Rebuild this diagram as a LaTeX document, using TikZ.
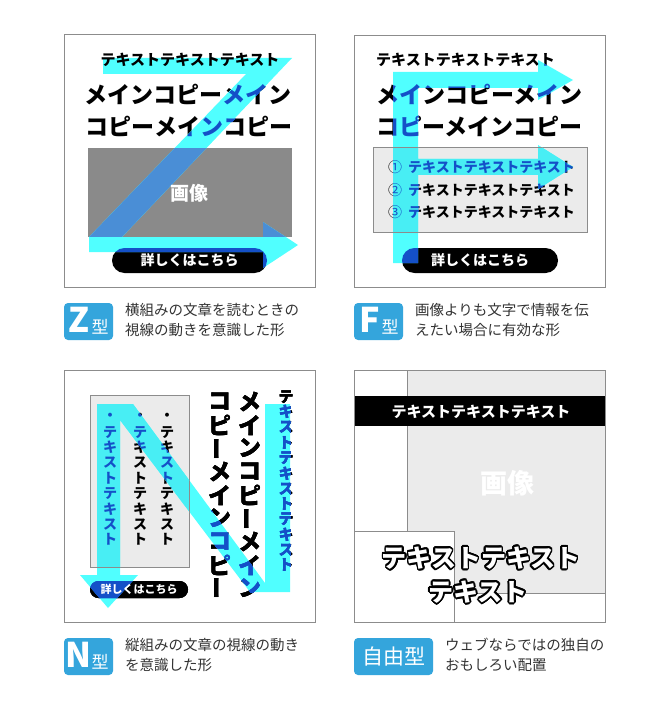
\documentclass[tikz,border=0pt]{standalone}
\usepackage{fontspec}
\setmainfont{Noto Sans CJK JP}
\usepackage{graphicx}
\usetikzlibrary{positioning}

\definecolor{acyan}{HTML}{50FFFF}
\definecolor{ablue}{HTML}{1450C8}
\definecolor{asteel}{HTML}{4A8ED6}
\definecolor{acyangray}{HTML}{48EEF4}
\definecolor{imggray}{HTML}{8A8A8A}
\definecolor{boxgray}{HTML}{EBEBEB}
\definecolor{framegray}{HTML}{8C8C8C}
\definecolor{tagblue}{HTML}{34A5DC}
\definecolor{desccolor}{HTML}{333333}

% vertical long vowel mark
\newcommand\vbar{\rotatebox[origin=c]{90}{ー}}

% one column of vertical text: name, style, x, first y, pitch, glyphs
\newcommand\vcol[6]{%
  \foreach \ch [count=\k] in {#6}
    \node[#2] (#1-\k) at (#3,{#4+#5*(\k-1)}) {\ch};}

% arrow outlines
\newcommand\zarrow{(103,58) -- (292,58) -- (122,237) -- (263,237) -- (263,222) -- (298,245) -- (263,268) -- (263,252) -- (89,252) -- (89,237) -- (246,74) -- (103,74) -- cycle}
\newcommand\farrow{(393,72) -- (538,72) -- (538,60) -- (573,80) -- (538,100) -- (538,88) -- (418,88) -- (418,159) -- (538,159) -- (538,145) -- (573,167) -- (538,189) -- (538,175) -- (418,175) -- (418,263) -- (393,263) -- cycle}
\newcommand\narrow{(97,404) -- (133,404) -- (265,583) -- (265,404) -- (290,404) -- (290,592) -- (250,592) -- (120,420) -- (120,575) -- (138,575) -- (108,608) -- (80,575) -- (97,575) -- cycle}

% panel contents: image/box colour, text colour, button colour
\newcommand\zbase[3]{%
  \fill[#1] (88,148) rectangle (292,237);
  \node[imgtext] (zimage) at (189,193) {画像};
  \node[maincopy, text=#2] (zmainA) at (188,95) {メインコピーメイン};
  \node[maincopy, text=#2] (zmainB) at (189,127) {コピーメインコピー};
  \fill[#3, rounded corners=12.5pt] (112,248) rectangle (267,273);
  \node[btntext] (zbutton) at (189.5,260.5) {詳しくはこちら};}

\newcommand\fbase[3]{%
  \draw[draw=framegray, fill=#1] (373,147) rectangle (587,232);
  \node[subcopy, anchor=west, text=#2] (ftop) at (376,60) {テキストテキストテキスト};
  \node[maincopy, anchor=west, text=#2] (fmainA) at (376,95) {メインコピーメイン};
  \node[maincopy, anchor=west, text=#2] (fmainB) at (376,127) {コピーメインコピー};
  \foreach \num/\yy in {①/167, ②/190, ③/212} {
    \node[listnum, text=#2] (fnum\yy) at (395,\yy) {\num};
    \node[listtext, anchor=west, text=#2] (fitem\yy) at (408,\yy) {テキストテキストテキスト};
  }
  \fill[#3, rounded corners=12.5pt] (402,248) rectangle (558,273);
  \node[btntext] (fbutton) at (480,260.5) {詳しくはこちら};}

\newcommand\nbase[3]{%
  \draw[draw=framegray, fill=#1] (90,395) rectangle (189,567);
  \foreach \xx [count=\c] in {167,140,110}
    \vcol{nlist\c}{listtext, text=#2}{\xx}{417}{15.3}{・,テ,キ,ス,ト,テ,キ,ス,ト}
  \vcol{nmainA}{maincopy, text=#2}{250}{402}{23.3}{メ,イ,ン,コ,ピ,\vbar,メ,イ,ン}
  \vcol{nmainB}{maincopy, text=#2}{220}{402}{23.3}{コ,ピ,\vbar,メ,イ,ン,コ,ピ,\vbar}
  \vcol{nsub}{subcopy, text=#2}{286}{397}{15.3}{テ,キ,ス,ト,テ,キ,ス,ト,テ,キ,ス,ト}
  \fill[#3, rounded corners=8.5pt] (90,581) rectangle (188,598);
  \node[btnsmall] (nbutton) at (139,589.5) {詳しくはこちら};}

\begin{document}
\begin{tikzpicture}[x=1pt, y=-1pt,
    panelframe/.style={draw=framegray, line width=0.9pt},
    maincopy/.style={font=\bfseries\fontsize{23}{23}\selectfont, inner sep=0pt},
    subcopy/.style={font=\bfseries\fontsize{15}{15}\selectfont, inner sep=0pt},
    listtext/.style={font=\bfseries\fontsize{14}{14}\selectfont, inner sep=0pt},
    listnum/.style={font=\fontsize{14}{14}\selectfont, inner sep=0pt},
    btntext/.style={text=white, font=\bfseries\fontsize{14}{14}\selectfont, inner sep=0pt},
    btnsmall/.style={text=white, font=\bfseries\fontsize{11}{11}\selectfont, inner sep=0pt},
    imgtext/.style={text=white, font=\bfseries\fontsize{19}{19}\selectfont, inner sep=0pt},
    bigtext/.style={font=\bfseries\fontsize{25}{25}\selectfont, inner sep=0pt},
    tagbox/.style={fill=tagblue, rounded corners=4pt},
    tagtext/.style={text=white, inner sep=0pt},
    desctext/.style={text=desccolor, font=\fontsize{14.5}{20}\selectfont, align=left, anchor=west, inner sep=0pt}
]
\useasboundingbox (0,0) rectangle (671,711);
\fill[white] (0,0) rectangle (671,711);

% Z layout
\draw[panelframe] (64,34) rectangle (315,287);
\zbase{imggray}{black}{black}
\fill[acyan] \zarrow;
\begin{scope}
  \clip \zarrow;
  \zbase{asteel}{ablue}{ablue}
\end{scope}
\node[subcopy] (ztop) at (190,60) {テキストテキストテキスト};

% F layout
\draw[panelframe] (354,35) rectangle (605,287);
\fbase{boxgray}{black}{black}
\fill[acyan] \farrow;
\begin{scope}
  \clip \farrow;
  \fbase{acyangray}{ablue}{ablue}
\end{scope}

% N layout
\draw[panelframe] (64,370) rectangle (315,622);
\nbase{boxgray}{black}{black}
\fill[acyan] \narrow;
\begin{scope}
  \clip \narrow;
  \nbase{acyangray}{ablue}{ablue}
\end{scope}

% free layout
\draw[draw=framegray, fill=boxgray] (407,370) rectangle (605,593);
\node[imgtext, font=\bfseries\fontsize{27}{27}\selectfont] (freeimage) at (507,483) {画像};
\fill[black] (354,396) rectangle (605,426);
\node[subcopy, text=white] (freeband) at (481,412) {テキストテキストテキスト};
\draw[draw=framegray, fill=white] (354,531) rectangle (454,622);
\foreach \a in {0,20,...,340} {
  \node[bigtext, text=black, shift={(\a:1.7)}] (outA\a) at (481,558) {テキストテキスト};
  \node[bigtext, text=black, shift={(\a:1.7)}] (outB\a) at (478,592) {テキスト};
}
\node[bigtext, text=white] (freeA) at (481,558) {テキストテキスト};
\node[bigtext, text=white] (freeB) at (478,592) {テキスト};
\draw[panelframe] (354,370) rectangle (605,622);

% captions
\fill[tagbox] (64,303) rectangle (113,340);
\node[tagtext, font=\bfseries\fontsize{34}{34}\selectfont] (tagZ) at (79,320) {Z};
\node[tagtext, font=\fontsize{17}{17}\selectfont] (tagZk) at (100,326.5) {型};
\node[desctext] (descZ) at (125,320) {横組みの文章を読むときの\\視線の動きを意識した形};

\fill[tagbox] (354,303) rectangle (403,340);
\node[tagtext, font=\bfseries\fontsize{34}{34}\selectfont] (tagF) at (369.5,320) {F};
\node[tagtext, font=\fontsize{17}{17}\selectfont] (tagFk) at (390,326.5) {型};
\node[desctext] (descF) at (415,320) {画像よりも文字で情報を伝\\えたい場合に有効な形};

\fill[tagbox] (64,638) rectangle (113,675);
\node[tagtext, font=\bfseries\fontsize{34}{34}\selectfont] (tagN) at (78,655) {N};
\node[tagtext, font=\fontsize{17}{17}\selectfont] (tagNk) at (100,661.5) {型};
\node[desctext] (descN) at (125,655) {縦組みの文章の視線の動き\\を意識した形};

\fill[tagbox] (354,638) rectangle (433,675);
\node[tagtext, font=\fontsize{21}{21}\selectfont] (tagFree) at (393.5,656.5) {自由型};
\node[desctext] (descFree) at (445,655) {ウェブならではの独自の\\おもしろい配置};
\end{tikzpicture}
\end{document}
